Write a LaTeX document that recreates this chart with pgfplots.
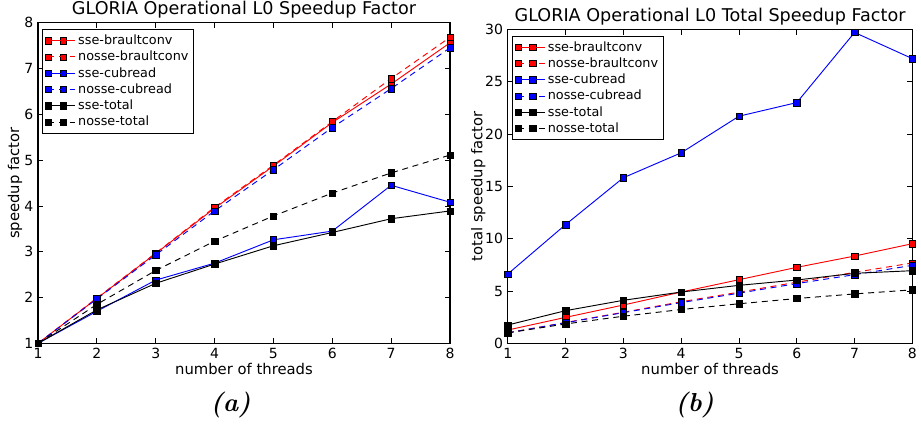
\documentclass[border=0pt]{standalone}
\usepackage{fontspec}
\usepackage{pgfplots}
\pgfplotsset{compat=1.18}
\newfontfamily\dejavu{DejaVu Sans}
\pgfplotsset{
  mpl/.style={
    scale only axis,
    xmin=1, xmax=8,
    xtick={1,2,3,4,5,6,7,8},
    tick align=inside,
    xtick pos=both, ytick pos=both,
    major tick length=4pt,
    axis line style={black, line width=0.8pt},
    every tick/.style={black, line width=0.6pt},
    /pgf/number format/assume math mode=true,
    tick label style={font=\dejavu\fontsize{10.5}{12}\selectfont},
    label style={font=\dejavu\fontsize{11.1}{13}\selectfont},
    every axis title shift=0pt,
    title style={font=\dejavu\fontsize{13.2}{15}\selectfont, at={(axis description cs:0.5,1.024)}, anchor=base, yshift=0pt},
    legend style={font=\dejavu\fontsize{9.6}{11}\selectfont, at={(0.01,0.98)}, anchor=north west,
      draw=black, line width=0.6pt, cells={anchor=west}, row sep=-0.6pt, inner sep=2pt},
    legend image code/.code={\draw[mark repeat=1,mark phase=1,#1] plot coordinates {(0pt,0pt) (11pt,0pt)}; \path (0pt,0pt) -- (20pt,0pt);},
    every axis plot/.append style={line width=0.7pt},
  },
  rs/.style={red, mark=square*, mark size=2.4pt, mark options={solid, fill=red, draw=black, line width=0.35pt}},
  bs/.style={blue, mark=square*, mark size=2.4pt, mark options={solid, fill=blue, draw=black, line width=0.35pt}},
  ks/.style={black, mark=square*, mark size=2.4pt, mark options={solid, fill=black, draw=black, line width=0.35pt}},
  dsh/.style={dash pattern=on 4.5pt off 3.5pt},
}
\begin{document}
\begin{tikzpicture}
\path[use as bounding box] (0,0) rectangle (690.75pt,318pt);
\begin{axis}[mpl,
  at={(28.5pt,60.5pt)}, anchor=south west,
  width=309pt, height=240.5pt,
  ymin=1, ymax=8, ytick={1,2,3,4,5,6,7,8},
  title={GLORIA Operational L0 Speedup Factor},
  xlabel={number of threads}, ylabel={speedup factor},
  xlabel style={at={(axis description cs:0.5,-0.080)}, anchor=center},
  ylabel style={at={(axis description cs:-0.056,0.5)}, anchor=center, rotate=0},
]
\addplot[rs] coordinates {(1,1) (2,1.98) (3,2.96) (4,3.95) (5,4.87) (6,5.82) (7,6.66) (8,7.56)};
\addlegendentry{sse-braultconv}
\addplot[rs,dsh] coordinates {(1,1) (2,1.99) (3,2.97) (4,3.97) (5,4.89) (6,5.84) (7,6.78) (8,7.68)};
\addlegendentry{nosse-braultconv}
\addplot[bs] coordinates {(1,1) (2,1.70) (3,2.38) (4,2.75) (5,3.26) (6,3.45) (7,4.45) (8,4.08)};
\addlegendentry{sse-cubread}
\addplot[bs,dsh] coordinates {(1,1) (2,1.97) (3,2.93) (4,3.89) (5,4.79) (6,5.71) (7,6.56) (8,7.45)};
\addlegendentry{nosse-cubread}
\addplot[ks] coordinates {(1,1) (2,1.73) (3,2.31) (4,2.73) (5,3.13) (6,3.42) (7,3.72) (8,3.89)};
\addlegendentry{sse-total}
\addplot[ks,dsh] coordinates {(1,1) (2,1.85) (3,2.59) (4,3.23) (5,3.78) (6,4.28) (7,4.72) (8,5.11)};
\addlegendentry{nosse-total}
\end{axis}
\begin{axis}[mpl,
  at={(380.8pt,60.5pt)}, anchor=south west,
  width=303.5pt, height=235.5pt,
  ymin=0, ymax=30, ytick={0,5,10,15,20,25,30},
  title={GLORIA Operational L0 Total Speedup Factor},
  xlabel={number of threads}, ylabel={total speedup factor},
  xlabel style={at={(axis description cs:0.5,-0.082)}, anchor=center},
  ylabel style={at={(axis description cs:-0.073,0.5)}, anchor=center, rotate=0},
]
\addplot[rs] coordinates {(1,1.27) (2,2.48) (3,3.66) (4,4.90) (5,6.08) (6,7.26) (7,8.34) (8,9.52)};
\addlegendentry{sse-braultconv}
\addplot[rs,dsh] coordinates {(1,1) (2,1.99) (3,2.97) (4,3.97) (5,4.89) (6,5.84) (7,6.78) (8,7.68)};
\addlegendentry{nosse-braultconv}
\addplot[bs] coordinates {(1,6.62) (2,11.34) (3,15.82) (4,18.2) (5,21.7) (6,23.0) (7,29.7) (8,27.2)};
\addlegendentry{sse-cubread}
\addplot[bs,dsh] coordinates {(1,1) (2,1.97) (3,2.93) (4,3.89) (5,4.79) (6,5.71) (7,6.56) (8,7.45)};
\addlegendentry{nosse-cubread}
\addplot[ks] coordinates {(1,1.75) (2,3.12) (3,4.11) (4,4.90) (5,5.54) (6,6.05) (7,6.69) (8,6.94)};
\addlegendentry{sse-total}
\addplot[ks,dsh] coordinates {(1,1) (2,1.85) (3,2.59) (4,3.23) (5,3.78) (6,4.28) (7,4.72) (8,5.11)};
\addlegendentry{nosse-total}
\end{axis}
\node at (173pt,14.25pt) {\fontsize{19.5}{22}\selectfont\bfseries\itshape (a)};
\node at (521pt,14.25pt) {\fontsize{19.5}{22}\selectfont\bfseries\itshape (b)};
\end{tikzpicture}
\end{document}
